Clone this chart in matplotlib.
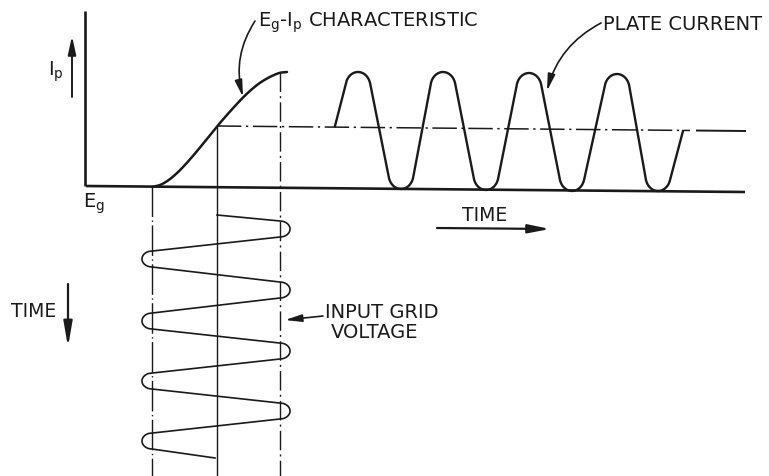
import numpy as np
import matplotlib
matplotlib.use("Agg")
import matplotlib.pyplot as plt
from matplotlib.patches import FancyArrowPatch

# ---------------- data (pixel units) ----------------
# Eg-Ip characteristic curve
char_x = [152, 160, 168, 176, 184, 192, 200, 208, 217, 226, 235, 243, 251, 259, 267, 274, 280, 287]
char_y = [188, 186, 181.5, 175, 167, 158, 148.5, 138.5, 127.5, 117, 107, 98.5, 91, 84.5, 79.5, 76, 73.8, 73]

# Plate current waveform
plate_start = (335, 127)
plate_end = (683, 132)
peak_x = [358, 443, 529, 617]
peak_y = [73, 73, 74, 75]
trough_x = [401, 486, 572, 658]
trough_y = [190, 191, 192, 192]

# Input grid voltage (zig-zag, time running downward)
grid_start = (217, 216)
grid_end = (215, 459)
grid_right_x = 280
grid_left_x = 152
right_cap_y = [230, 291, 352, 412]
left_cap_y = [260, 322, 382, 442]

# Guide lines
eg_axis = ((86, 187), (745, 193))
ip_axis = ((85, 12), (85, 187))
bias_line = ((217, 127), (745, 132))
guide_x = [152, 217, 280]
guide_top = [187, 127, 73]

labels_font = 14

# ---------------- figure ----------------
W, H = 769, 477
fig = plt.figure(figsize=(W / 100, H / 100), dpi=100)
ax = fig.add_axes([0, 0, 1, 1])
ax.set_xlim(0, W)
ax.set_ylim(H, 0)
ax.axis("off")

ink = "#1a1a1a"

# axes
ax.plot([ip_axis[0][0], ip_axis[1][0]], [ip_axis[0][1], ip_axis[1][1]], color=ink, lw=1.9, solid_capstyle="butt")
ax.plot([eg_axis[0][0], eg_axis[1][0]], [eg_axis[0][1], eg_axis[1][1]], color=ink, lw=1.9, solid_capstyle="butt")

# vertical guides
ax.plot([guide_x[0]] * 2, [guide_top[0], H], color=ink, lw=1.0, linestyle=(0, (22, 2.5, 1, 2.5)))
ax.plot([guide_x[1]] * 2, [guide_top[1], H], color=ink, lw=1.0)
ax.plot([guide_x[2]] * 2, [guide_top[2], H], color=ink, lw=1.0, linestyle=(0, (14, 3, 1.5, 3)))

# bias (operating point) dash-dot line
(bx0, by0), (bx1, by1) = bias_line
def by_at(x):
    return by0 + (by1 - by0) * (x - bx0) / (bx1 - bx0)
ax.plot([bx0, 690], [by0, by_at(690)], color=ink, lw=1.1, linestyle=(0, (16, 3, 1.5, 3)))
ax.plot([697, bx1], [by_at(697), by1], color=ink, lw=1.4)

# characteristic curve: smooth Catmull-Rom stroke through the read points
def catmull_rom(xs, ys, n=12):
    P = np.column_stack([xs, ys]).astype(float)
    P = np.vstack([P[0], P, P[-1]])
    out = []
    for i in range(1, len(P) - 2):
        p0, p1, p2, p3 = P[i - 1], P[i], P[i + 1], P[i + 2]
        for u in np.linspace(0, 1, n, endpoint=False):
            out.append(0.5 * ((2 * p1) + (-p0 + p2) * u + (2 * p0 - 5 * p1 + 4 * p2 - p3) * u ** 2
                              + (-p0 + 3 * p1 - 3 * p2 + p3) * u ** 3))
    out.append(P[-2])
    out = np.array(out)
    return out[:, 0], out[:, 1]

cx_s, cy_s = catmull_rom(char_x, char_y)
ax.plot(cx_s, cy_s, color=ink, lw=1.8, solid_capstyle="round", solid_joinstyle="round")

# plate current (rounded caps, straight flanks)
a_p, b_p = 12.5, 15
s0 = np.arctan(0.2 * b_p / a_p)
s = np.linspace(s0, np.pi - s0, 40)
px, py = [plate_start[0]], [plate_start[1]]
for i in range(len(peak_x)):
    cx, top = peak_x[i], peak_y[i]
    px += list(cx - a_p * np.cos(s)); py += list(top + b_p - b_p * np.sin(s))
    tx, bot = trough_x[i], trough_y[i]
    px += list(tx - a_p * np.cos(s)); py += list(bot - b_p + b_p * np.sin(s))
px.append(plate_end[0]); py.append(plate_end[1])
ax.plot(px, py, color=ink, lw=1.7, solid_joinstyle="round")

# input grid voltage
a_g, b_g = 10, 8
gx, gy = [grid_start[0]], [grid_start[1]]
t = np.linspace(-np.pi / 2, np.pi / 2, 30)
for i in range(len(right_cap_y)):
    gx += list(grid_right_x + a_g * np.cos(t)); gy += list(right_cap_y[i] + b_g * np.sin(t))
    gx += list(grid_left_x - a_g * np.cos(t)); gy += list(left_cap_y[i] + b_g * np.sin(t))
gx.append(grid_end[0]); gy.append(grid_end[1])
ax.plot(gx, gy, color=ink, lw=1.2, solid_joinstyle="round")

# arrows
def arrow(p0, p1, rad=0.0, lw=1.4, hl=0.6, hw=0.12):
    a = FancyArrowPatch(p0, p1, connectionstyle=f"arc3,rad={rad}",
                        arrowstyle=f"-|>,head_length={hl},head_width={hw}",
                        mutation_scale=20, color=ink, lw=lw, shrinkA=0, shrinkB=0)
    ax.add_patch(a)

arrow((72, 98), (72, 37), lw=1.4, hl=0.55, hw=0.12)      # Ip arrow
arrow((437, 229), (550, 230), lw=1.6, hl=0.65, hw=0.13)  # TIME ->
arrow((68, 285), (68, 348), lw=1.6, hl=0.75, hw=0.13)    # TIME down
arrow((255, 22), (243, 98), rad=0.22, lw=1.2, hl=0.5, hw=0.11)   # characteristic label
arrow((601, 24), (547, 92), rad=0.22, lw=1.2, hl=0.5, hw=0.11)   # plate current label
arrow((323, 317), (285, 321), lw=1.2, hl=0.5, hw=0.11)           # input grid label

# texts
fam = "DejaVu Sans"
ax.text(48, 72, r"I$_\mathregular{p}$", fontsize=labels_font, family=fam, va="center", ha="left", color=ink)
ax.text(83, 204, r"E$_\mathregular{g}$", fontsize=labels_font, family=fam, va="center", ha="left", color=ink)
ax.text(258, 23, r"E$_\mathregular{g}$-I$_\mathregular{p}$ CHARACTERISTIC", fontsize=labels_font,
        family=fam, va="center", ha="left", color=ink)
ax.text(603, 25, "PLATE CURRENT", fontsize=labels_font, family=fam, va="center", ha="left", color=ink)
ax.text(485, 216, "TIME", fontsize=labels_font - 0.5, family=fam, va="center", ha="center", color=ink)
ax.text(34, 312, "TIME", fontsize=labels_font - 0.5, family=fam, va="center", ha="center", color=ink)
ax.text(382, 313, "INPUT GRID", fontsize=labels_font, family=fam, va="center", ha="center", color=ink)
ax.text(375, 333, "VOLTAGE", fontsize=labels_font, family=fam, va="center", ha="center", color=ink)

fig.savefig("out.png", dpi=100, facecolor="white")
